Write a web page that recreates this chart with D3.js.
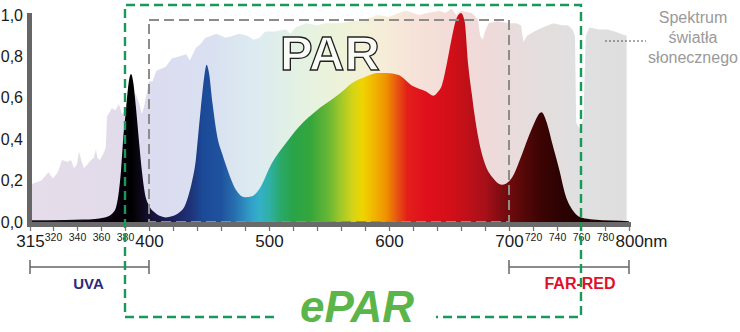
<!DOCTYPE html>
<html><head><meta charset="utf-8">
<script src="https://cdn.jsdelivr.net/npm/d3@7"></script>
<style>html,body{margin:0;padding:0;background:#fff;} svg{display:block;font-family:"Liberation Sans",Arial,sans-serif;}</style>
</head><body><svg id="c" width="740" height="332"></svg>
<script>
// ---- data ----
const sunWl  = [315,317.5,319,320,324,327.5,332,335,337.5,340,341.7,343.5,345.8,349,351.7,354,355.8,357,359,362,364,365,369,372,375,377.5,380,385,389,392,394,396,398,400,403,406,410,414,419,425,431,434,439,443,447,452,456,460,464,470,475,482,487,492,497,505,514,518,522,531,540,547,558,569,580,591,600,608,614,620,625,632,642,647,652,656,660,669,674,676,678,680,683,690,700,706,710,712,715,721,728,737,744,749,753,755,756,759,762,764,767,775,782,788,793,798];
const sunVal = [0.18,0.20,0.24,0.21,0.24,0.30,0.29,0.30,0.26,0.28,0.34,0.30,0.26,0.28,0.30,0.31,0.35,0.31,0.30,0.33,0.36,0.51,0.55,0.54,0.57,0.52,0.54,0.58,0.62,0.57,0.52,0.56,0.62,0.68,0.68,0.73,0.74,0.75,0.79,0.80,0.81,0.78,0.84,0.86,0.89,0.90,0.91,0.90,0.89,0.90,0.91,0.90,0.88,0.89,0.92,0.92,0.93,0.91,0.94,0.96,0.95,0.96,0.96,0.97,0.98,1.00,0.99,1.01,1.02,1.01,1.00,1.01,1.02,1.01,1.03,1.00,1.02,1.01,0.98,0.90,0.88,0.92,0.96,0.97,0.96,0.96,0.95,0.87,0.90,0.92,0.94,0.96,0.95,0.95,0.93,0.90,0.48,0.45,0.50,0.90,0.94,0.93,0.93,0.92,0.91,0.90];
const ledWl  = [315,330,345,355,362,367,370,372.5,374.5,376.7,378.5,380.8,383,385,387,389,391.5,394,396.5,400,405,410,414,419,425,430,433,436,439,441,443,446,448,450,453,457,461,465,472,480,486,492,502,514,525,540,552,561,569,580,590,598,608,619,631,637,641,644,648,652,656,660,663,666,669,671,675,680,687,694,702,711,719,727,732,736,742,747,754,761,770,786,800];
const ledVal = [0.008,0.01,0.012,0.015,0.02,0.03,0.045,0.07,0.13,0.25,0.40,0.54,0.67,0.715,0.67,0.56,0.40,0.25,0.14,0.08,0.045,0.028,0.022,0.028,0.045,0.08,0.13,0.20,0.30,0.42,0.54,0.70,0.76,0.72,0.57,0.41,0.33,0.26,0.16,0.12,0.125,0.16,0.28,0.38,0.46,0.54,0.59,0.63,0.67,0.70,0.72,0.72,0.71,0.66,0.63,0.61,0.63,0.66,0.76,0.88,0.98,1.01,0.97,0.76,0.62,0.53,0.39,0.28,0.21,0.18,0.21,0.33,0.45,0.53,0.47,0.38,0.25,0.13,0.05,0.02,0.012,0.007,0.004];
const yTicks = [0,0.2,0.4,0.6,0.8,1.0];
const xMajorTicks = [315,400,500,600,700,800];
const xMinorLabelTicks = [320,340,360,380,720,740,760,780];
const xPlainTicks = [420,440,460,480,520,540,560,580,620,640,660,680];
const bandNames = ["UVA","FAR-RED"];
const bandFrom = [315,700];
const bandTo = [400,800];
const parBand = [400,700];
const eparBand = [380,760];
const legendLines = ["Spektrum","światła","słonecznego"];

// ---- styles ----
const ledStops = [[315,"#1a1222"],[370,"#0a0010"],[385,"#000000"],[395,"#0f0a1e"],[405,"#1a1540"],[420,"#1c1f5e"],[435,"#1e3478"],[445,"#1b4a98"],[460,"#1f529e"],[472,"#2870b0"],[484,"#309cc8"],[492,"#34b0c8"],[500,"#2fb0a8"],[510,"#2aa868"],[520,"#28a448"],[535,"#36a63c"],[550,"#6ab834"],[560,"#a2c82a"],[570,"#d4d418"],[578,"#f0d400"],[588,"#f0b400"],[598,"#ef9000"],[606,"#e85a10"],[615,"#e2201a"],[630,"#e0101c"],[650,"#d40f18"],[665,"#c01018"],[680,"#a8101a"],[695,"#7a0c10"],[710,"#5a0808"],[725,"#3e0404"],[745,"#2a0202"],[800,"#1a0000"]];
const sunStops = [[315,"#e6dde9"],[370,"#e2dbea"],[400,"#dcdcef"],[450,"#d9e0f1"],[490,"#dcebf0"],[520,"#e2f1e4"],[560,"#eef3d8"],[590,"#f6efd8"],[620,"#f6e3d8"],[650,"#f4dcd8"],[690,"#eddada"],[720,"#e5dddd"],[760,"#e0e0e0"],[800,"#dedede"]];

const svg = d3.select("#c");
const x = d3.scaleLinear().domain([315,320,800]).range([30,53,629]);
const y = d3.scaleLinear().domain([0,1]).range([222,15]);

const defs = svg.append("defs");
function grad(id, stops){
  const g = defs.append("linearGradient").attr("id",id).attr("gradientUnits","userSpaceOnUse")
    .attr("x1",x(315)).attr("x2",x(800)).attr("y1",0).attr("y2",0);
  const x0=x(315), x1=x(800);
  stops.forEach(s=>g.append("stop").attr("offset",(x(s[0])-x0)/(x1-x0)).attr("stop-color",s[1]));
}
grad("sunG", sunStops);
grad("ledG", ledStops);

const sunData = sunWl.map((w,i)=>[w,sunVal[i]]);
const ledData = ledWl.map((w,i)=>[w,ledVal[i]]);

const sunArea = d3.area().x(d=>x(d[0])).y0(y(0)).y1(d=>y(d[1])).curve(d3.curveLinear);
const ledArea = d3.area().x(d=>x(d[0])).y0(y(0)).y1(d=>y(d[1])).curve(d3.curveMonotoneX);

svg.append("path").datum(sunData).attr("d",sunArea).attr("fill","url(#sunG)");
svg.append("path").datum(ledData).attr("d",ledArea).attr("fill","url(#ledG)");

// PAR dashed box
svg.append("rect").attr("x",x(parBand[0])).attr("y",20).attr("width",x(parBand[1])-x(parBand[0])).attr("height",y(0)-20)
  .attr("fill","none").attr("stroke","#8c8c8c").attr("stroke-width",2).attr("stroke-dasharray","10,5");

// PAR text
svg.append("text").attr("x",(x(parBand[0])+x(parBand[1]))/2 + 1).attr("y",70).attr("text-anchor","middle")
  .attr("font-size",49).attr("font-weight","bold").attr("fill","#fafaf6").attr("stroke","#1e1e1e").attr("stroke-width",1.3).text("PAR");

// axes bars
svg.append("rect").attr("x",27).attr("y",13).attr("width",5).attr("height",y(0)+5-13).attr("fill","#666");
svg.append("rect").attr("x",27).attr("y",y(0)).attr("width",x(800)+2-27).attr("height",5).attr("fill","#6a6a6a");

// x axis ticks
const allTicks = [...xMajorTicks, ...xMinorLabelTicks, ...xPlainTicks].sort((a,b)=>a-b);
const xAxis = d3.axisBottom(x).tickValues(allTicks).tickSize(4).tickPadding(4)
  .tickFormat(d => xPlainTicks.includes(d) ? "" : (d===800 ? "800nm" : String(d)));
const gx = svg.append("g").attr("transform",`translate(0,${y(0)+5})`).call(xAxis);
gx.select(".domain").remove();
gx.selectAll(".tick line").attr("stroke","#777").attr("stroke-width",1.3);
gx.selectAll(".tick text").attr("fill","#1a1a1a")
  .attr("font-size",d=>xMajorTicks.includes(d)?17:10.5)
  .attr("dy",d=>xMajorTicks.includes(d)?"0.72em":"0.6em")
  .attr("text-anchor",d=>d===800?"start":"middle")
  .attr("x",d=>d===800?-14:0);

// y axis labels
const yAxis = d3.axisLeft(y).tickValues(yTicks).tickSize(0).tickPadding(5)
  .tickFormat(d=>d3.format(".1f")(d).replace(".",","));
const gy = svg.append("g").attr("transform","translate(28,0)").call(yAxis);
gy.select(".domain").remove();
gy.selectAll(".tick text").attr("font-size",16).attr("fill","#1a1a1a");

// band brackets
const bandColors = ["#2d2a7a","#e0102a"];
bandNames.forEach((n,i)=>{
  const a=x(bandFrom[i]), b=x(bandTo[i]), yy=267;
  const g=svg.append("g").attr("stroke","#666").attr("stroke-width",1.5);
  g.append("line").attr("x1",a).attr("x2",b).attr("y1",yy).attr("y2",yy);
  g.append("line").attr("x1",a).attr("x2",a).attr("y1",yy-7).attr("y2",yy+7);
  g.append("line").attr("x1",b).attr("x2",b).attr("y1",yy-7).attr("y2",yy+7);
  svg.append("text").attr("x",(a+b)/2 + (i===0?-1:11)).attr("y",289).attr("text-anchor","middle")
    .attr("font-weight","bold").attr("font-size",i===0?15:16).attr("fill",bandColors[i]).text(n);
});

// ePAR dashed box (open at bottom middle for label)
const ex0=x(eparBand[0]), ex1=x(eparBand[1]), ey0=5, ey1=317;
svg.append("path").attr("d",`M274,${ey1}H${ex0}V${ey0}H${ex1}V${ey1}H436`)
  .attr("fill","none").attr("stroke","#16995a").attr("stroke-width",2.4).attr("stroke-dasharray","9,5");
svg.append("text").attr("x",357).attr("y",322).attr("text-anchor","middle")
  .attr("font-size",44).attr("font-weight","bold").attr("font-style","italic").attr("fill","#5bb548").text("ePAR");

// legend
svg.append("line").attr("x1",605).attr("x2",646).attr("y1",41).attr("y2",41)
  .attr("stroke","#555").attr("stroke-width",1).attr("stroke-dasharray","2,2");
legendLines.forEach((t,i)=>svg.append("text").attr("x",693).attr("y",23+i*20).attr("text-anchor","middle")
  .attr("font-size",16).attr("fill","#9a9a9a").text(t));
</script>
</body></html>
